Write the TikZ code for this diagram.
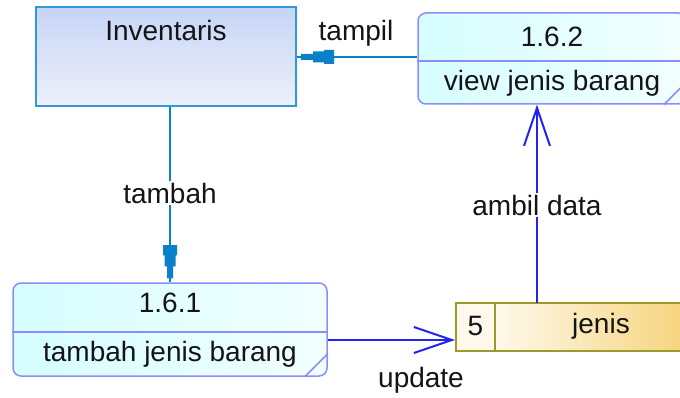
\documentclass[tikz,border=0pt]{standalone}
\usepackage{fontspec}
\setmainfont{Liberation Sans}
\usetikzlibrary{arrows.meta}
\pgfdeclarearrow{
  name = StepTip,
  setup code = {
    \pgfarrowssettipend{0pt}
    \pgfarrowssetlineend{0pt}
    \pgfarrowssetbackend{-37pt}
    \pgfarrowshullpoint{0pt}{3pt}
    \pgfarrowshullpoint{-37pt}{7pt}
    \pgfarrowshullpoint{-37pt}{-7pt}
    \pgfarrowshullpoint{0pt}{-3pt}
  },
  drawing code = {
    \pgfpathmoveto{\pgfpoint{-4pt}{3pt}}
    \pgfpathlineto{\pgfpoint{-16pt}{3pt}}
    \pgfpathlineto{\pgfpoint{-16pt}{5.5pt}}
    \pgfpathlineto{\pgfpoint{-27pt}{5.5pt}}
    \pgfpathlineto{\pgfpoint{-27pt}{7pt}}
    \pgfpathlineto{\pgfpoint{-37pt}{7pt}}
    \pgfpathlineto{\pgfpoint{-37pt}{-7pt}}
    \pgfpathlineto{\pgfpoint{-27pt}{-7pt}}
    \pgfpathlineto{\pgfpoint{-27pt}{-5.5pt}}
    \pgfpathlineto{\pgfpoint{-16pt}{-5.5pt}}
    \pgfpathlineto{\pgfpoint{-16pt}{-3pt}}
    \pgfpathlineto{\pgfpoint{-4pt}{-3pt}}
    \pgfpathclose
    \pgfusepathqfill
  }
}
\definecolor{invborder}{HTML}{2E9AD6}
\definecolor{invtop}{HTML}{C6D5F6}
\definecolor{invbot}{HTML}{EEF0FC}
\definecolor{procborder}{HTML}{8C8CFF}
\definecolor{procL}{HTML}{D6FEFF}
\definecolor{procR}{HTML}{F2FFFF}
\definecolor{dsborder}{HTML}{9C9A2C}
\definecolor{dsL}{HTML}{FFF9EC}
\definecolor{dsR}{HTML}{F5D070}
\definecolor{tealline}{HTML}{0A80C8}
\definecolor{blueline}{HTML}{2424F0}
\definecolor{txtcol}{HTML}{141418}
\tikzset{
  invbox/.style={draw=invborder, line width=2pt, top color=invtop, bottom color=invbot, inner sep=0pt},
  procbox/.style={draw=procborder, line width=1.5pt, left color=procL, right color=procR, rounded corners=8pt, inner sep=0pt},
  procline/.style={draw=procborder, line width=1.5pt},
  dsnum/.style={draw=dsborder, line width=2pt, fill=dsL, inner sep=0pt, minimum width=39pt, minimum height=48pt},
  dsname/.style={draw=dsborder, line width=2pt, left color=dsL, right color=dsR, inner sep=0pt, minimum width=212pt, minimum height=48pt},
  txt/.style={text=txtcol, inner sep=0pt},
  lbl/.style={text=txtcol, fill=white, inner sep=2pt},
  tealflow/.style={draw=tealline, fill=tealline, line width=2pt, -{StepTip}},
  blueflow/.style={draw=blueline, line width=2pt, -{Straight Barb[length=38pt,width=26pt]}}
}
\begin{document}
\begin{tikzpicture}[x=1pt,y=-1pt, font=\fontsize{28}{32}\selectfont]
\useasboundingbox (0,0) rectangle (680,398);
\clip (0,0) rectangle (680,398);
\fill[white] (0,0) rectangle (680,398);

% Inventaris
\node[invbox, minimum width=260pt, minimum height=99pt] (inv) at (166,56.5) {};
\node[txt] (invt) at (166,30) {Inventaris};

% Process 1.6.2
\node[procbox, minimum width=268pt, minimum height=91pt] (p2) at (552,58.5) {};
\draw[procline] (p2.west |- 0,61) -- (p2.east |- 0,61);
\draw[procline] ([xshift=-23pt]p2.south east) -- ([yshift=23pt]p2.south east);
\node[txt] (p2n) at (552,37) {1.6.2};
\node[txt] (p2t) at (552,83) {view jenis barang};

% Process 1.6.1
\node[procbox, minimum width=314pt, minimum height=93pt] (p1) at (170,329.5) {};
\draw[procline] (p1.west |- 0,332) -- (p1.east |- 0,332);
\draw[procline] ([xshift=-23pt]p1.south east) -- ([yshift=23pt]p1.south east);
\node[txt] (p1n) at (170,303) {1.6.1};
\node[txt] (p1t) at (170,354) {tambah jenis barang};

% Data store
\node[dsnum] (dsn) at (475.5,327) {};
\node[dsname] (ds) at (601,327) {};
\node[txt] (dsnt) at (475.5,326) {5};
\node[txt] (dst) at (601,326) {jenis};

% Flows
\draw[tealflow] (p2.west |- 0,57) -- (inv.east |- 0,57);
\node[txt] (ltampil) at (356,33) {tampil};

\coordinate (t0) at (inv.south -| 170,0);
\draw[tealflow] (t0) -- (t0 |- p1.north);
\node[lbl] (ltambah) at (170,193) {tambah};

\coordinate (u1) at ([yshift=-10.5pt]p1.east);
\draw[blueflow] (u1) -- (u1 -| dsn.west);
\node[txt] (lupdate) at (421,380) {update};

\coordinate (a1) at (537,303);
\draw[blueflow] (a1) -- (a1 |- p2.south);
\node[lbl] (lambil) at (537,205) {ambil data};
\end{tikzpicture}
\end{document}
